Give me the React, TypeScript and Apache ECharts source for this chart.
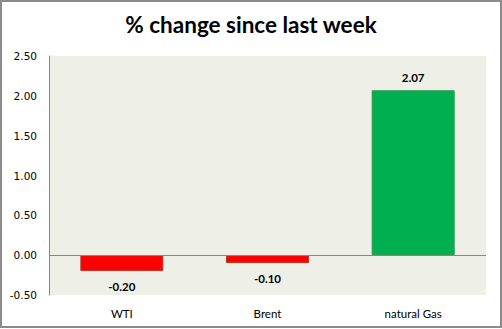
import React, { useEffect, useRef } from "react";
import * as echarts from "echarts";

const categories = ["WTI", "Brent", "natural Gas"];
const changes = [-0.2, -0.1, 2.07];
const barColors = ["#FF0000", "#FF0000", "#00B050"];
const borderColors = ["#B83A2E", "#B83A2E", "#2E9A50"];
const yTicks = { min: -0.5, max: 2.5, interval: 0.5 };
const title = "% change since last week";

export default function App() {
  const ref = useRef<HTMLDivElement>(null);
  useEffect(() => {
    if (!ref.current) return;
    const chart = echarts.init(ref.current, null, { renderer: "svg" });
    chart.setOption({
      animation: false,
      backgroundColor: "#FFFFFF",
      title: {
        text: title,
        left: "center",
        top: 8,
        textStyle: { fontFamily: "Lato", fontWeight: "bold", fontSize: 22.5, color: "#000" },
      },
      graphic: [
        {
          type: "rect",
          shape: { x: 1, y: 1, width: 500, height: 326 },
          style: { fill: "none", stroke: "#8C8C8C", lineWidth: 2 },
          silent: true,
          z: 100,
        },
      ],
      grid: {
        left: 49,
        right: 16,
        top: 56,
        bottom: 34,
        show: true,
        backgroundColor: "#EEF0E8",
        borderWidth: 0,
      },
      xAxis: {
        type: "category",
        data: categories,
        axisLine: { show: false, onZero: false },
        axisTick: { show: false },
        axisLabel: { margin: 12, fontFamily: "Lato", fontSize: 11.5, color: "#000" },
      },
      yAxis: {
        type: "value",
        min: yTicks.min,
        max: yTicks.max,
        interval: yTicks.interval,
        axisLine: { show: true, lineStyle: { color: "#868686", width: 1 } },
        axisTick: { show: false },
        splitLine: { show: false },
        axisLabel: {
          margin: 12,
          fontFamily: "DejaVu Sans",
          fontSize: 10.5,
          color: "#000",
          formatter: (v: number) => v.toFixed(2),
        },
      },
      series: [
        {
          type: "bar",
          barWidth: 83,
          data: changes.map((v, i) => ({
            value: v,
            itemStyle: { color: barColors[i], borderColor: borderColors[i], borderWidth: 1 },
            label: {
              show: true,
              position: v < 0 ? "bottom" : "top",
              distance: v < 0 ? 9 : 7,
              formatter: v.toFixed(2),
              fontFamily: "Lato",
              fontWeight: "bold",
              fontSize: 11.5,
              color: "#000",
            },
          })),
          markLine: {
            silent: true,
            symbol: "none",
            label: { show: false },
            lineStyle: { color: "#868686", width: 1, type: "solid" },
            data: [{ yAxis: 0 }],
          },
        },
      ],
    });
    return () => chart.dispose();
  }, []);
  return (
    <div
      ref={ref}
      style={{ position: "absolute", left: 0, top: 0, width: 502, height: 329 }}
    />
  );
}
